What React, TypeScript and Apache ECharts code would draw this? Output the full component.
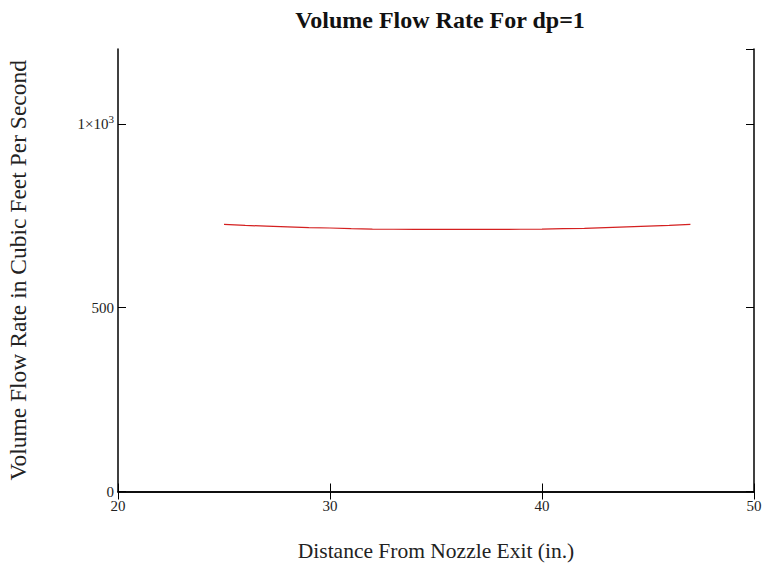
import React, { useEffect, useRef } from "react";
import * as echarts from "echarts";

const xValues = [25, 26, 27, 28, 29, 30, 31, 32, 33, 34, 35, 36, 37, 38, 39, 40, 41, 42, 43, 44, 45, 46, 47];
const flowRates = [727, 724, 722, 720, 718, 717, 715, 714, 713.5, 713, 713, 713, 713, 713, 713.5, 714, 715, 716, 718, 720, 722, 724, 727];
const xTicks = [20, 30, 40, 50];
const yTicks = [0, 500, 1000];

const serif = "'Liberation Serif', 'DejaVu Serif', serif";

export default function App() {
  const ref = useRef<HTMLDivElement>(null);
  useEffect(() => {
    if (!ref.current) return;
    const chart = echarts.init(ref.current, null, { renderer: "svg" });
    const data = xValues.map((x, i) => [x, flowRates[i]]);
    const frameLine = { show: true, lineStyle: { color: "#000", width: 1.5 } };
    const tickStyle = { show: true, inside: true, length: 8, lineStyle: { color: "#000", width: 1 } };
    chart.setOption({
      animation: false,
      backgroundColor: "#fff",
      title: {
        text: "Volume Flow Rate For dp=1",
        left: 435,
        textAlign: "center",
        top: 3,
        textStyle: { fontFamily: serif, fontSize: 24, fontWeight: "bold", color: "#111" },
      },
      grid: { left: 118, right: 15, top: 49, bottom: 75.5, outerBoundsMode: "none", containLabel: false },
      xAxis: [
        {
          type: "value",
          min: 20,
          max: 50,
          interval: 10,
          position: "bottom",
          name: "Distance From Nozzle Exit (in.)",
          nameLocation: "middle",
          nameGap: 48,
          nameTextStyle: { fontFamily: serif, fontSize: 21.5, color: "#222" },
          axisLine: frameLine,
          axisTick: tickStyle,
          splitLine: { show: false },
          axisLabel: {
            fontFamily: serif,
            fontSize: 15,
            color: "#222",
            margin: 7,
            showMinLabel: true,
            showMaxLabel: true,
            formatter: (v: number) => (xTicks.includes(v) ? String(v) : ""),
          },
        },
        {
          type: "value",
          min: 20,
          max: 50,
          interval: 10,
          position: "top",
          axisLine: frameLine,
          axisTick: tickStyle,
          splitLine: { show: false },
          axisLabel: { show: false },
        },
      ],
      yAxis: [
        {
          type: "value",
          min: 0,
          max: 1204,
          interval: 500,
          position: "left",
          name: "Volume Flow Rate in Cubic Feet Per Second",
          nameLocation: "middle",
          nameGap: 88,
          nameTextStyle: { fontFamily: serif, fontSize: 23.5, color: "#222" },
          axisLine: frameLine,
          axisTick: tickStyle,
          splitLine: { show: false },
          axisLabel: {
            fontFamily: serif,
            fontSize: 15,
            color: "#222",
            margin: 4,
            showMaxLabel: false,
            formatter: (v: number) => {
              if (!yTicks.includes(v)) return "";
              if (v === 1000) return "1×10{sup|3}";
              return String(v);
            },
            rich: {
              sup: { fontFamily: serif, fontSize: 11, color: "#222", verticalAlign: "top", padding: [0, 0, 9, 0] },
            },
          },
        },
        {
          type: "value",
          min: 0,
          max: 1204,
          interval: 500,
          position: "right",
          axisLine: frameLine,
          axisTick: tickStyle,
          splitLine: { show: false },
          axisLabel: { show: false },
        },
      ],
      series: [
        {
          type: "line",
          data,
          xAxisIndex: 0,
          yAxisIndex: 0,
          showSymbol: false,
          lineStyle: { color: "#d42020", width: 1.2 },
        },
      ],
    });
    return () => chart.dispose();
  }, []);
  return <div ref={ref} style={{ width: 769, height: 567, position: "absolute", left: 0, top: 0 }} />;
}
